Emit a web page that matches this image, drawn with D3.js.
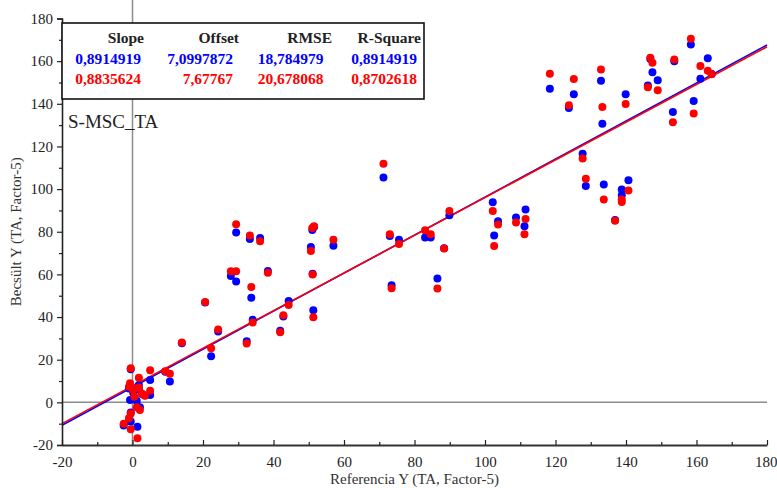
<!DOCTYPE html>
<html>
<head>
<meta charset="utf-8">
<script src="https://cdn.jsdelivr.net/npm/d3@7"></script>
<style>
  html, body { margin: 0; padding: 0; background: #fff; }
  svg { display: block; }
  text { font-family: "Liberation Serif", "Times New Roman", serif; }
</style>
</head>
<body>
<svg id="chart" width="777" height="488"></svg>
<script>
// ---- data ----
const refX = [
  -0.5, 1.8, 5.0, 9.3, 10.6, 1.8, 5.0, 3.5, -0.7, 1.2, 2.1, -0.5, -1.0, -2.5, -0.5, 1.4, 0.2, -1.0, 0.5, 2.6,
  14.0, 20.6, 22.3, 24.3, 27.9, 29.4, 29.4, 32.4, 33.3, 33.7, 34.1, 36.2, 38.4, 41.9, 42.8, 44.3,
  50.6, 51.0, 51.5, 51.1, 51.3, 57.0, 71.2, 73.0, 73.5, 75.6, 83.0, 84.6, 86.5, 88.4, 89.9,
  102.2, 102.6, 103.7, 108.8, 111.2, 111.5, 118.4, 123.8, 125.2, 127.7, 128.6, 132.9, 133.3, 133.7,
  136.9, 138.8, 138.8, 139.9, 140.7, 146.2, 146.9, 147.5, 149.0, 153.3, 153.7, 158.4, 159.2, 161.1, 163.2, 164.3
];
const bluePred = [
  15.5, 8.1, 10.5, 14.4, 9.8, 6.1, 3.4, 3.3, 1.1, 0.6, -2.3, -4.8, -8.8, -10.8, -9.0, -11.4, 4.5, 6.5, 2.0, 3.9,
  27.7, 46.8, 21.6, 33.2, 59.2, 56.7, 79.6, 28.7, 76.6, 49.0, 38.7, 77.1, 61.6, 33.6, 40.2, 47.5,
  72.9, 80.8, 82.2, 60.3, 43.2, 73.4, 105.4, 78.0, 54.9, 76.3, 77.3, 77.3, 58.1, 72.3, 87.7,
  93.8, 78.2, 84.9, 86.7, 82.6, 90.4, 147.1, 138.0, 144.5, 116.6, 101.5, 150.8, 130.7, 102.2,
  85.5, 99.8, 97.1, 144.5, 104.1, 148.6, 161.0, 154.8, 151.0, 136.1, 160.0, 167.8, 141.3, 151.7, 161.4, 154.0
];
const redPred = [
  16.0, 11.5, 15.1, 14.6, 13.4, 7.0, 5.4, 3.1, 8.9, -2.3, -3.6, -5.2, -7.5, -10.0, -12.6, -16.8, 5.8, 7.3, 2.6, 4.2,
  28.1, 47.0, 25.4, 34.2, 61.5, 61.5, 83.5, 27.6, 78.2, 54.1, 37.4, 75.6, 60.8, 32.9, 40.9, 45.6,
  71.0, 81.8, 82.6, 60.0, 39.9, 76.3, 111.9, 78.8, 53.5, 74.3, 80.7, 78.8, 53.4, 72.1, 89.7,
  89.7, 73.3, 83.4, 84.3, 78.8, 86.0, 154.1, 139.3, 151.6, 114.4, 104.9, 156.1, 138.5, 95.1,
  85.2, 95.1, 94.0, 139.9, 99.4, 147.8, 161.6, 159.3, 146.4, 131.4, 160.8, 170.5, 135.4, 157.7, 155.5, 153.8
];
const fitSlope = [0.8914919, 0.8835624];
const fitOffset = [7.0997872, 7.67767];
const seriesColors = ["#0000ff", "#ff0000"];
const statNames = ["Slope", "Offset", "RMSE", "R-Square"];
const blueStats = ["0,8914919", "7,0997872", "18,784979", "0,8914919"];
const redStats = ["0,8835624", "7,67767", "20,678068", "0,8702618"];
const xTicks = [-20, 0, 20, 40, 60, 80, 100, 120, 140, 160, 180];
const yTicks = [-20, 0, 20, 40, 60, 80, 100, 120, 140, 160, 180];
const minorTicks = [-10, 10, 30, 50, 70, 90, 110, 130, 150, 170];
const panelLabel = "S-MSC_TA";
const xTitle = "Referencia Y (TA, Factor-5)";
const yTitle = "Becsült  Y (TA, Factor-5)";

// ---- chart ----
const svg = d3.select("#chart");
const x = d3.scaleLinear().domain([-20, 180]).range([62, 767]);
const y = d3.scaleLinear().domain([-20, 180]).range([445, 18.5]);
const fmt = d => String(d);

// zero grid lines
svg.append("line").attr("x1", x(0)).attr("x2", x(0)).attr("y1", 0).attr("y2", y(-20))
  .attr("stroke", "#8c8c8c").attr("stroke-width", 1.5);
svg.append("line").attr("x1", x(-20)).attr("x2", x(180)).attr("y1", y(0)).attr("y2", y(0))
  .attr("stroke", "#8c8c8c").attr("stroke-width", 1.5);

// fit lines
fitSlope.forEach((s, i) => {
  const x0 = -20, x1 = 180;
  svg.append("line")
    .attr("x1", x(x0)).attr("y1", y(s * x0 + fitOffset[i]))
    .attr("x2", x(x1)).attr("y2", y(s * x1 + fitOffset[i]))
    .attr("stroke", seriesColors[i]).attr("stroke-width", 1.6);
});

// points
const pts = refX.map((r, i) => ({ r, b: bluePred[i], d: redPred[i] }));
svg.append("g").selectAll("circle").data(pts).join("circle")
  .attr("cx", d => x(d.r)).attr("cy", d => y(d.b)).attr("r", 4)
  .attr("fill", seriesColors[0]);
svg.append("g").selectAll("circle").data(pts).join("circle")
  .attr("cx", d => x(d.r)).attr("cy", d => y(d.d)).attr("r", 4)
  .attr("fill", seriesColors[1]);

// y axis
const yAxis = d3.axisLeft(y).tickValues(yTicks).tickSize(5).tickPadding(4).tickFormat(fmt);
const gy = svg.append("g").attr("transform", `translate(${x(-20)},0)`).call(yAxis);
gy.select(".domain").attr("stroke", "#222").attr("stroke-width", 1.6);
gy.selectAll(".tick line").attr("stroke", "#222").attr("stroke-width", 1.2);
gy.selectAll("text").attr("font-size", 15).attr("fill", "#222")
  .style("font-family", '"Liberation Serif", "Times New Roman", serif');
svg.append("g").attr("transform", `translate(${x(-20)},0)`)
  .call(d3.axisLeft(y).tickValues(minorTicks).tickSize(3).tickFormat(""))
  .call(g => g.select(".domain").remove())
  .selectAll(".tick line").attr("stroke", "#222").attr("stroke-width", 1.2);

// x axis (ticks inward)
const xAxis = d3.axisBottom(x).tickValues(xTicks).tickSizeInner(-5).tickSizeOuter(0).tickPadding(11).tickFormat(fmt);
const gx = svg.append("g").attr("transform", `translate(0,${y(-20)})`).call(xAxis);
gx.select(".domain").attr("stroke", "#333").attr("stroke-width", 2);
gx.selectAll(".tick line").attr("stroke", "#222").attr("stroke-width", 1.2);
gx.selectAll("text").attr("font-size", 15).attr("fill", "#222")
  .style("font-family", '"Liberation Serif", "Times New Roman", serif');
gx.selectAll(".tick text").filter(d => d === 180).attr("text-anchor", "end").attr("dx", 10);
svg.append("g").attr("transform", `translate(0,${y(-20)})`)
  .call(d3.axisBottom(x).tickValues(minorTicks).tickSizeInner(-3).tickSizeOuter(0).tickFormat(""))
  .call(g => g.select(".domain").remove())
  .selectAll(".tick line").attr("stroke", "#222").attr("stroke-width", 1.2);

// axis titles
svg.append("text").attr("x", (x(-20) + x(180)) / 2).attr("y", 484)
  .attr("text-anchor", "middle").attr("font-size", 15).attr("fill", "#333").text(xTitle);
svg.append("text").attr("transform", `translate(21,${(y(-20) + y(180)) / 2}) rotate(-90)`)
  .attr("text-anchor", "middle").attr("font-size", 15).attr("fill", "#333").text(yTitle);

// panel label
svg.append("text").attr("x", 68).attr("y", 128).attr("font-size", 19).attr("fill", "#222").text(panelLabel);

// stats box
svg.append("rect").attr("x", 62).attr("y", 23).attr("width", 362).attr("height", 76)
  .attr("fill", "#fff").attr("stroke", "#111").attr("stroke-width", 1.6);
const headEnds = [144, 239, 332, 421];
const valEnds = [141, 233, 323.5, 417];
const box = svg.append("g").attr("font-weight", "bold").attr("font-size", 15.5).attr("text-anchor", "end");
box.selectAll("text.h").data(statNames).join("text").attr("class", "h")
  .attr("x", (d, i) => headEnds[i]).attr("y", 43).attr("fill", "#222").text(d => d);
box.selectAll("text.b").data(blueStats).join("text").attr("class", "b")
  .attr("x", (d, i) => valEnds[i]).attr("y", 64).attr("fill", seriesColors[0]).text(d => d);
box.selectAll("text.r").data(redStats).join("text").attr("class", "r")
  .attr("x", (d, i) => valEnds[i]).attr("y", 84).attr("fill", seriesColors[1]).text(d => d);
</script>
</body>
</html>
